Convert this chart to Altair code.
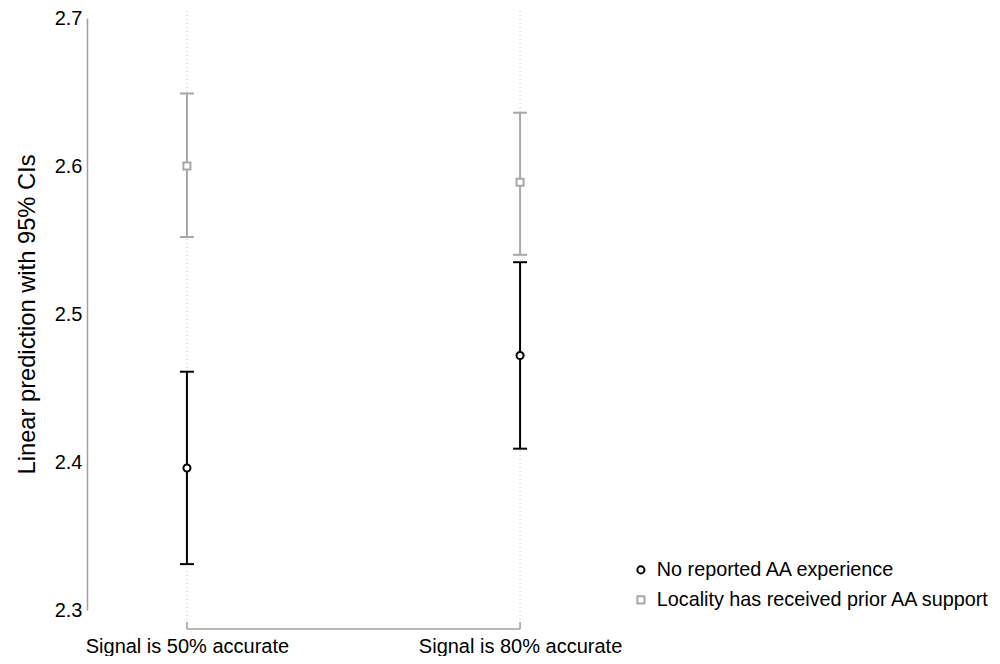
import altair as alt
import pandas as pd

categories = ["Signal is 50% accurate", "Signal is 80% accurate"]
series = ["No reported AA experience", "Locality has received prior AA support"]

# estimates and 95% CI per series (order follows categories)
est_none = [2.396, 2.472]
lo_none = [2.331, 2.409]
hi_none = [2.461, 2.535]

est_prior = [2.600, 2.589]
lo_prior = [2.552, 2.540]
hi_prior = [2.649, 2.636]

y_ticks = [2.3, 2.4, 2.5, 2.6, 2.7]
series_colors = ["#000000", "#a8a8a8"]
series_shapes = ["circle", "square"]

rows = []
for i, c in enumerate(categories):
    rows.append(dict(cat=c, xpos=i + 1, series=series[0], est=est_none[i], lo=lo_none[i], hi=hi_none[i]))
    rows.append(dict(cat=c, xpos=i + 1, series=series[1], est=est_prior[i], lo=lo_prior[i], hi=hi_prior[i]))
df = pd.DataFrame(rows)
df_cat = pd.DataFrame({"cat": categories, "xpos": [i + 1 for i in range(len(categories))]})

FONT = "Liberation Sans"
xscale = alt.Scale(domain=[0.7, 2.3], nice=False, zero=False)
yscale = alt.Scale(domain=[2.3, 2.7], nice=False, zero=False)

label_expr = "datum.value == 1 ? '" + categories[0] + "' : '" + categories[1] + "'"
x_axis = alt.Axis(values=[1, 2], labelExpr=label_expr, domain=False, ticks=False, grid=False,
                  labelPadding=26, title=None)
y_axis = alt.Axis(values=y_ticks, format=".1f", domainColor="#a0a0a0", domainWidth=1.5,
                  ticks=False, grid=False, labelPadding=5,
                  title="Linear prediction with 95% CIs", titlePadding=15)

def X(field):
    return alt.X(field, type="quantitative", scale=xscale, axis=x_axis)

def Y(field):
    return alt.Y(field, type="quantitative", scale=yscale, axis=y_axis)

legend = alt.Legend(title=None, orient="none", legendX=544, legendY=542)
color = alt.Color("series:N", scale=alt.Scale(domain=series, range=series_colors), legend=legend)
shape = alt.Shape("series:N", scale=alt.Scale(domain=series, range=series_shapes), legend=legend)

grid = alt.Chart(df_cat).mark_rule(strokeDash=[1, 3], color="#c4c4c4", strokeWidth=1).encode(
    x=X("xpos"), y=alt.value(-15), y2=alt.value(611))

bracket = alt.Chart(df_cat).mark_rule(color="#a0a0a0", strokeWidth=1.5).encode(
    x=alt.X("min(xpos):Q", scale=xscale, axis=x_axis), x2="max(xpos):Q", y=alt.value(611))
bracket_ticks = alt.Chart(df_cat).mark_rule(color="#a0a0a0", strokeWidth=1.5).encode(
    x=X("xpos"), y=alt.value(604), y2=alt.value(611))

base = alt.Chart(df)
rules = base.mark_rule(strokeWidth=2).encode(x=X("xpos"), y=Y("lo"), y2="hi:Q", color=color)
caps_lo = base.mark_rule(strokeWidth=2, xOffset=-7, x2Offset=7).encode(
    x=X("xpos"), x2="xpos:Q", y=Y("lo"), color=color)
caps_hi = base.mark_rule(strokeWidth=2, xOffset=-7, x2Offset=7).encode(
    x=X("xpos"), x2="xpos:Q", y=Y("hi"), color=color)
points = base.mark_point(filled=False, strokeWidth=2, size=50, opacity=1, fill="#ffffff").encode(
    x=X("xpos"), y=Y("est"), color=color, shape=shape)

chart = alt.layer(grid, bracket, bracket_ticks, rules, caps_lo, caps_hi, points).properties(
    width=533, height=592,
    autosize=alt.AutoSizeParams(type="none"),
    padding={"left": 79, "top": 10, "right": 368, "bottom": 46},
    background="#ffffff",
).configure_view(strokeWidth=0).configure_axis(
    labelFontSize=20, labelFont=FONT, labelColor="#000000", labelLimit=500,
    titleFontSize=23.7, titleFont=FONT, titleFontWeight="normal", titleColor="#000000",
).configure_legend(
    labelFontSize=19.8, labelFont=FONT, labelColor="#000000", labelLimit=500,
    symbolSize=50, symbolStrokeWidth=2, rowPadding=9, labelOffset=6,
)

chart.save("out.html", embed_options={"renderer": "svg", "actions": False})
